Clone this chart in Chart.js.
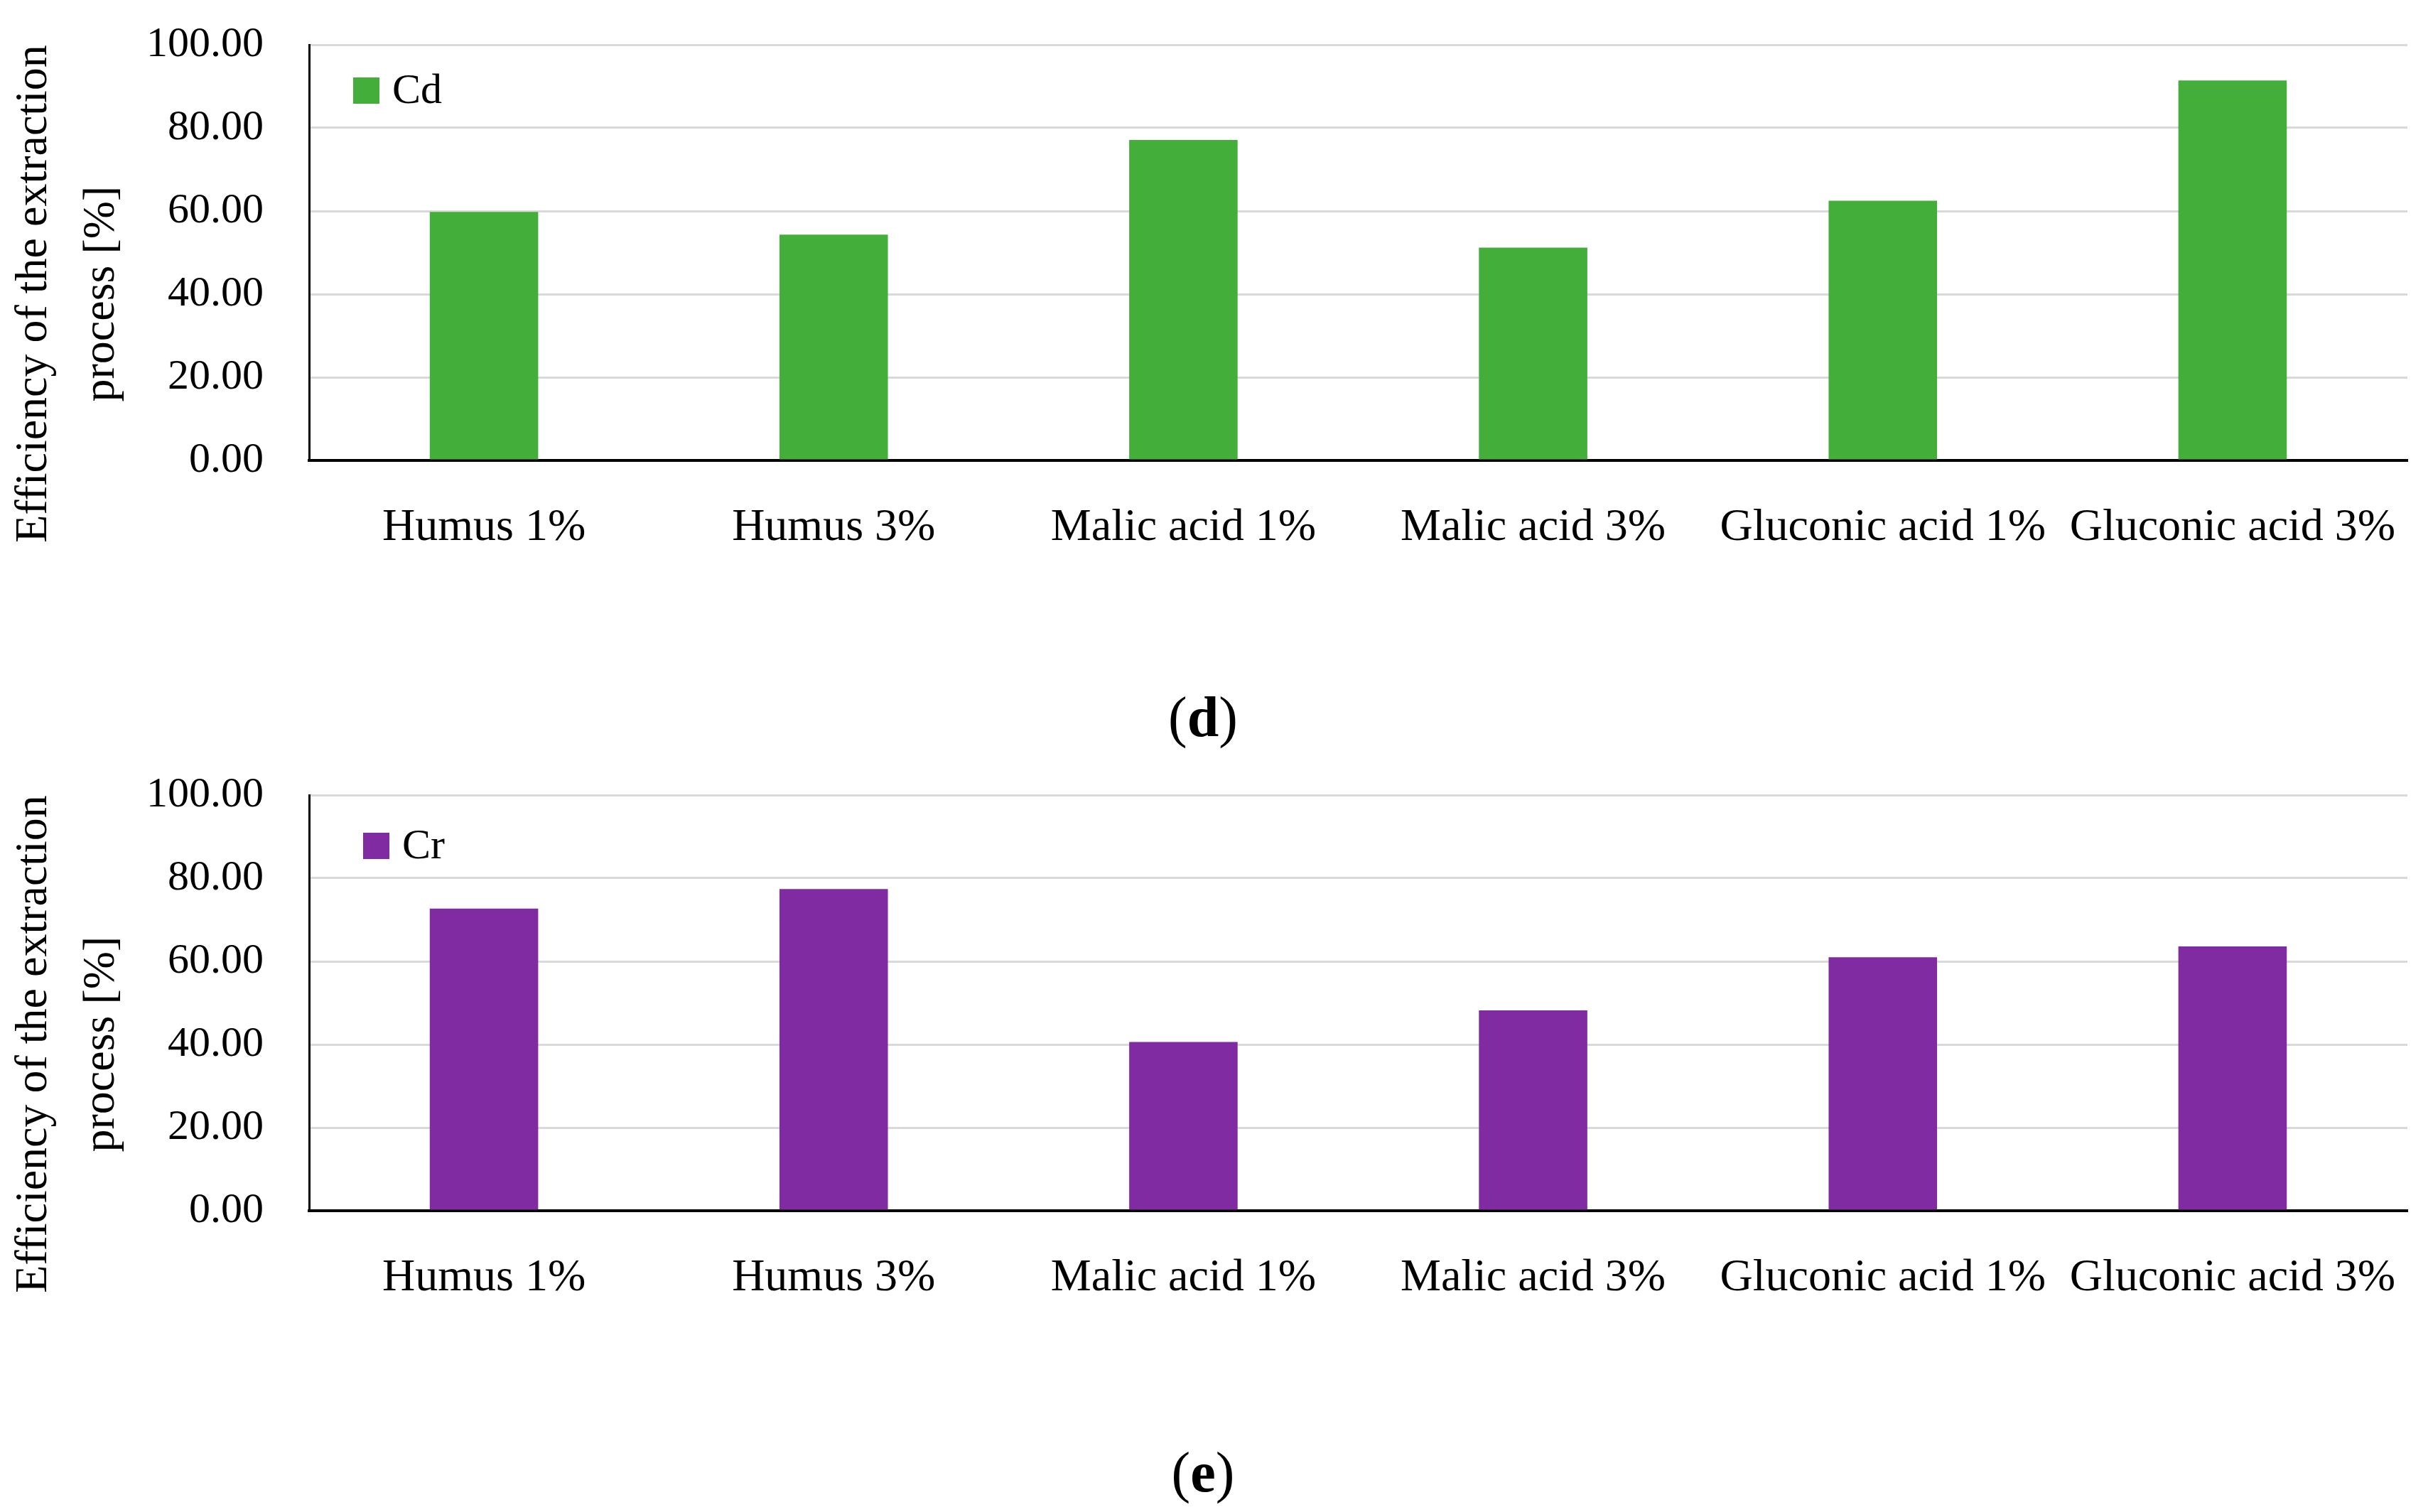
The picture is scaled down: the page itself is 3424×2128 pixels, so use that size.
<!DOCTYPE html>
<html>
<head>
<meta charset="utf-8">
<script src="https://cdn.jsdelivr.net/npm/chart.js@4.4.0/dist/chart.umd.min.js"></script>
<style>
  html, body { margin: 0; padding: 0; background: #fff; }
  body { width: 3424px; height: 2128px; position: relative; overflow: hidden; font-family: "Liberation Serif", serif; }
  .panel { position: absolute; left: 0; width: 3424px; height: 900px; }
  .caption { position: absolute; left: -19px; width: 3424px; text-align: center; font-size: 80px; line-height: 92px; color: #000; }
</style>
</head>
<body>
<div class="panel" style="top:0"><canvas id="chartCd"></canvas></div>
<div class="caption" style="top:963px">(<b>d</b>)</div>
<div class="panel" style="top:1056px"><canvas id="chartCr"></canvas></div>
<div class="caption" style="top:2026px">(<b>e</b>)</div>
<script>
const categories = ["Humus 1%", "Humus 3%", "Malic acid 1%", "Malic acid 3%", "Gluconic acid 1%", "Gluconic acid 3%"];
const cdValues = [59.8, 54.3, 77.1, 51.2, 62.5, 91.4];
const crValues = [72.7, 77.4, 40.6, 48.2, 61.0, 63.6];
const yTicks = [0, 20, 40, 60, 80, 100];
const yTitle = ["Efficiency of the extraction", "process [%]"];

const FONT = "'Liberation Serif', serif";

// legend square + label drawn inside the plot, top-left
const insideLegend = {
  id: "insideLegend",
  afterDraw(chart, args, opts) {
    const ctx = chart.ctx;
    const area = chart.chartArea;
    const ds = chart.data.datasets[0];
    const x = area.left + opts.dx;
    const y = area.top + opts.dy;
    ctx.save();
    ctx.fillStyle = ds.backgroundColor;
    ctx.fillRect(x, y, 37, 37);
    ctx.fillStyle = "#000";
    ctx.font = "60px " + FONT;
    ctx.textBaseline = "middle";
    ctx.fillText(ds.label, x + 55, y + 20);
    ctx.restore();
  }
};

// two-line rotated axis title, centred a bit below the plot middle
const sideTitle = {
  id: "sideTitle",
  afterDraw(chart) {
    const ctx = chart.ctx;
    const area = chart.chartArea;
    const cy = (area.top + area.bottom) / 2 + 58;
    ctx.save();
    ctx.translate(0, cy);
    ctx.rotate(-Math.PI / 2);
    ctx.fillStyle = "#000";
    ctx.font = "64px " + FONT;
    ctx.textAlign = "center";
    ctx.textBaseline = "middle";
    ctx.fillText(yTitle[0], 0, 48);
    ctx.fillText(yTitle[1], 0, 143);
    ctx.restore();
  }
};

function makeChart(id, label, values, color, legendPos) {
  return new Chart(document.getElementById(id), {
    type: "bar",
    plugins: [insideLegend, sideTitle],
    data: {
      labels: categories,
      datasets: [{
        label: label,
        data: values,
        backgroundColor: color,
        barPercentage: 1,
        categoryPercentage: 0.31
      }]
    },
    options: {
      responsive: true,
      maintainAspectRatio: false,
      animation: false,
      layout: { padding: { top: 63, right: 36, left: 0, bottom: 0 } },
      plugins: {
        legend: { display: false },
        tooltip: { enabled: false },
        insideLegend: legendPos
      },
      scales: {
        x: {
          grid: { display: false },
          border: { display: true, color: "#000", width: 4 },
          ticks: { color: "#000", font: { family: FONT, size: 64 }, padding: 49, maxRotation: 0, autoSkip: false },
          afterFit: (s) => { s.height = 252; }
        },
        y: {
          min: 0,
          max: 100,
          afterBuildTicks: (s) => { s.ticks = yTicks.map(v => ({ value: v })); },
          grid: { color: "#d9d9d9", lineWidth: 3, drawTicks: false },
          border: { display: true, color: "#000", width: 3 },
          ticks: { color: "#000", font: { family: FONT, size: 60 }, padding: 64, callback: (v) => v.toFixed(2) },
          afterFit: (s) => { s.width = 435; s.paddingTop = 0; s.paddingBottom = 0; }
        }
      }
    }
  });
}

makeChart("chartCd", "Cd", cdValues, "#44ae3a", { dx: 62, dy: 46 });
makeChart("chartCr", "Cr", crValues, "#802ba2", { dx: 76, dy: 53 });
</script>
</body>
</html>
